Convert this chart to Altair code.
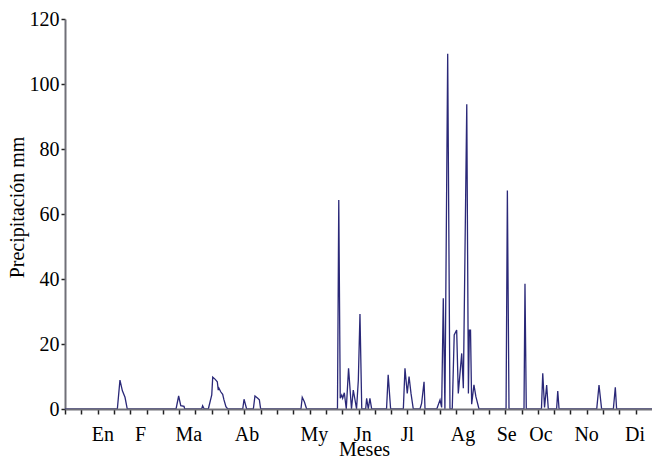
import altair as alt
import pandas as pd

# Daily precipitation (mm); day of year on x
days = [0,
        32.1, 33.7, 35.2, 36.8, 38.2,
        68.1, 69.7, 71.0, 73.0, 73.4,
        83.8, 84.4, 85.4,
        87.9, 90.0, 90.6, 92.0, 93.4, 94.0, 94.4, 95.5, 96.7, 97.5, 98.7, 99.8,
        109.0, 109.8, 111.4,
        115.5, 116.5, 118.2, 119.2, 120.0,
        144.7, 145.5, 146.8, 148.2,
        167.1, 167.9, 168.8, 169.7, 170.3, 171.3, 172.5, 173.9, 175.7, 176.8, 177.8,
        178.8, 179.9, 180.9, 182.0, 184.4, 185.0, 186.0, 187.0, 188.1,
        197.2, 198.2, 199.7,
        207.5, 208.5, 209.9, 211.0, 212.2, 213.6,
        217.7, 218.7, 220.2, 220.8,
        228.0, 230.0, 231.0, 232.0, 233.0, 234.7, 236.1, 237.5, 238.7, 240.2, 241.2,
        243.3, 244.3, 246.4, 247.4, 248.0, 248.7, 249.4, 250.8, 252.0, 253.9,
        270.5, 271.3, 272.3,
        281.5, 282.1, 282.9,
        292.2, 293.0, 294.1, 295.4, 296.4,
        301.5, 302.2, 303.0,
        326.1, 327.5, 329.1,
        336.3, 337.5, 338.3,
        360]
precip = [0,
          0, 8.9, 5.6, 3.6, 0,
          0, 4.0, 1.0, 0.8, 0,
          0, 1.0, 0,
          0, 4.3, 9.8, 9.2, 8.4, 5.8, 6.4, 5.3, 4.5, 2.8, 0.7, 0,
          0, 3.0, 0,
          0, 4.0, 3.3, 2.8, 0,
          0, 3.6, 2.2, 0,
          0, 64.3, 3.3, 4.3, 3.3, 5.0, 0, 12.5, 0, 5.8, 3.0,
          0, 8.9, 29.2, 0, 0, 3.3, 0, 3.3, 0,
          0, 10.5, 0,
          0, 12.5, 4.8, 10.0, 4.8, 0,
          0, 1.7, 8.4, 0,
          0, 2.8, 0.5, 34.1, 0, 109.3, 0, 0, 22.8, 24.3, 4.8,
          17.1, 6.4, 93.8, 4.8, 24.3, 24.3, 1.5, 7.4, 3.8, 0,
          0, 67.2, 0,
          0, 38.5, 0,
          0, 11.0, 0.5, 7.4, 0,
          0, 5.5, 0,
          0, 7.4, 0,
          0, 6.7, 0,
          0]

month_labels = ["En", "F", "Ma", "Ab", "My", "Jn", "Jl", "Ag", "Se", "Oc", "No", "Di"]
month_pos = [23.2, 46.3, 75.9, 111.6, 153.0, 182.6, 210.0, 244.1, 270.9, 291.9, 319.9, 349.6]
x_tick_values = list(range(0, 360, 10))
y_tick_values = [0, 20, 40, 60, 80, 100, 120]

FONT = "Liberation Serif"
LINE_COLOR = "#2a2878"

df = pd.DataFrame({"dia": days, "mm": precip})
mdf = pd.DataFrame({"dia": month_pos, "mes": month_labels})

x_scale = alt.Scale(domain=[0, 360], nice=False, zero=False)
x_axis = alt.Axis(values=x_tick_values, labels=False, grid=False,
                  title="Meses", titlePadding=25, titleX=299,
                  titleFont=FONT, titleFontSize=20, titleFontWeight="normal",
                  domainColor="#707078", domainWidth=2,
                  tickColor="#222222", tickWidth=1.5, tickSize=5, zindex=1)

line = alt.Chart(df).mark_line(color=LINE_COLOR, strokeWidth=1.3).encode(
    x=alt.X("dia:Q", scale=x_scale, title="Meses", axis=x_axis),
    y=alt.Y("mm:Q", scale=alt.Scale(domain=[0, 120], nice=False),
            axis=alt.Axis(values=y_tick_values, grid=False,
                          title="Precipitación mm",
                          titleFont=FONT, titleFontSize=20, titleFontWeight="normal",
                          labelFont=FONT, labelFontSize=20,
                          titleX=-38, titleY=188,
                          domainColor="#707078", domainWidth=2,
                          tickColor="#222222", tickWidth=1.5, tickSize=4)),
)

labels = alt.Chart(mdf).mark_text(font=FONT, fontSize=20, color="black").encode(
    x=alt.X("dia:Q", scale=x_scale, title="Meses", axis=x_axis),
    y=alt.value(416),
    text="mes:N",
)

chart = alt.layer(line, labels).properties(
    width=587, height=390,
    padding={"left": 65, "top": 19, "right": 0, "bottom": 48},
    autosize=alt.AutoSizeParams(type="none"),
).configure(font=FONT).configure_axis(
    labelFont=FONT, titleFont=FONT, labelFontSize=20, titleFontSize=20,
    titleFontWeight="normal", labelColor="black", titleColor="black",
).configure_text(font=FONT).configure_view(stroke=None)

chart.save("out.html", embed_options={"renderer": "svg", "actions": False})
